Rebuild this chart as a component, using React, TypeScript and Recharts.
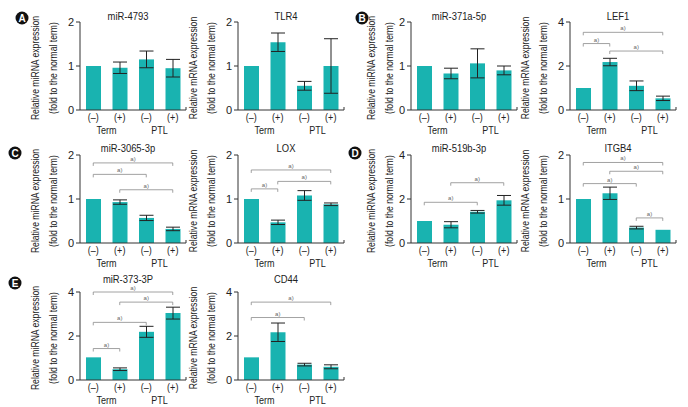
import React from "react";
import { BarChart, Bar, XAxis, YAxis, ErrorBar, ReferenceLine } from "recharts";

const FONT = '"Liberation Sans", Arial, sans-serif';
const SQUEEZE = 0.82;
const TEAL = "#19b3b0";
const INK = "#222";

const groups = ["term-", "term+", "ptl-", "ptl+"];
const groupLabels = ["(–)", "(+)", "(–)", "(+)"];
const sets = ["Term", "PTL"];

const mir4793 = [1.0, 0.96, 1.15, 0.95];
const mir4793Err = [0, 0.13, 0.19, 0.2];
const tlr4 = [1.0, 1.54, 0.55, 1.0];
const tlr4Err = [0, 0.21, 0.1, 0.62];
const mir371 = [1.0, 0.83, 1.06, 0.9];
const mir371Err = [0, 0.12, 0.33, 0.1];
const lef1 = [1.0, 2.18, 1.1, 0.53];
const lef1Err = [0, 0.17, 0.22, 0.1];
const mir3065 = [1.0, 0.93, 0.57, 0.32];
const mir3065Err = [0, 0.05, 0.06, 0.04];
const lox = [1.0, 0.47, 1.08, 0.88];
const loxErr = [0, 0.05, 0.11, 0.03];
const mir519 = [1.0, 0.83, 1.42, 1.94];
const mir519Err = [0, 0.14, 0.06, 0.22];
const itgb4 = [1.0, 1.13, 0.35, 0.3];
const itgb4Err = [0, 0.14, 0.03, 0];
const mir373 = [1.03, 0.49, 2.19, 3.04];
const mir373Err = [0, 0.06, 0.25, 0.27];
const cd44 = [1.03, 2.17, 0.7, 0.6];
const cd44Err = [0, 0.42, 0.06, 0.09];

// significance brackets: [from bar, to bar, height]
const lef1Sig = [[0, 3, 3.53], [0, 1, 3.02], [1, 3, 2.68]];
const mir3065Sig = [[0, 3, 1.82], [0, 2, 1.56], [1, 3, 1.21]];
const loxSig = [[0, 3, 1.66], [1, 3, 1.4], [0, 1, 1.23]];
const mir519Sig = [[1, 3, 2.74], [0, 2, 1.85]];
const itgb4Sig = [[0, 3, 1.83], [1, 3, 1.63], [0, 2, 1.35], [2, 3, 0.57]];
const mir373Sig = [[0, 3, 4.0], [1, 3, 3.54], [0, 2, 2.62], [0, 1, 1.43]];
const cd44Sig = [[0, 3, 3.54], [0, 2, 2.84]];

const ticks2 = [0, 1, 2];
const ticks4 = [0, 2, 4];

// layout
const colX = [80, 238, 411, 570];
const labelOff = [41, 41, 36, 41];
const rowY = [22, 155, 292];
const titleGap = [2, 3, 9];
const PLOT_W = 106;
const PLOT_H = 88;
const LEFT = 60;
const TOP = 30;
const RIGHT = 9;
const BOTTOM = 30;
const BAND = PLOT_W / 4;

type Panel = {
  title: string;
  kind: "miRNA" | "mRNA";
  col: number;
  row: number;
  values: number[];
  errs: number[];
  ticks: number[];
  sig: number[][];
};

const panels: Panel[] = [
  { title: "miR-4793", kind: "miRNA", col: 0, row: 0, values: mir4793, errs: mir4793Err, ticks: ticks2, sig: [] },
  { title: "TLR4", kind: "mRNA", col: 1, row: 0, values: tlr4, errs: tlr4Err, ticks: ticks2, sig: [] },
  { title: "miR-371a-5p", kind: "miRNA", col: 2, row: 0, values: mir371, errs: mir371Err, ticks: ticks2, sig: [] },
  { title: "LEF1", kind: "mRNA", col: 3, row: 0, values: lef1, errs: lef1Err, ticks: ticks4, sig: lef1Sig },
  { title: "miR-3065-3p", kind: "miRNA", col: 0, row: 1, values: mir3065, errs: mir3065Err, ticks: ticks2, sig: mir3065Sig },
  { title: "LOX", kind: "mRNA", col: 1, row: 1, values: lox, errs: loxErr, ticks: ticks2, sig: loxSig },
  { title: "miR-519b-3p", kind: "miRNA", col: 2, row: 1, values: mir519, errs: mir519Err, ticks: ticks4, sig: mir519Sig },
  { title: "ITGB4", kind: "mRNA", col: 3, row: 1, values: itgb4, errs: itgb4Err, ticks: ticks2, sig: itgb4Sig },
  { title: "miR-373-3P", kind: "miRNA", col: 0, row: 2, values: mir373, errs: mir373Err, ticks: ticks4, sig: mir373Sig },
  { title: "CD44", kind: "mRNA", col: 1, row: 2, values: cd44, errs: cd44Err, ticks: ticks4, sig: cd44Sig },
];

const letters = [
  { l: "A", x: 22, y: 18 },
  { l: "B", x: 362, y: 18 },
  { l: "C", x: 15, y: 153 },
  { l: "D", x: 355, y: 153 },
  { l: "E", x: 15, y: 283 },
];

// condensed-looking text: plain Liberation Sans squeezed horizontally
function Narrow({ x, y, size = 11, rotate = 0, children }: { x: number; y: number; size?: number; rotate?: number; children: React.ReactNode }) {
  return (
    <text
      transform={`translate(${x},${y}) rotate(${rotate}) scale(${SQUEEZE},1)`}
      textAnchor="middle"
      fontSize={size}
      fill={INK}
    >
      {children}
    </text>
  );
}

function GroupTick(props: any) {
  const { x, y, index } = props;
  return (
    <g>
      <Narrow x={x} y={y + 11}>{groupLabels[index]}</Narrow>
      {index % 2 === 0 && <Narrow x={x + BAND / 2} y={y + 24}>{sets[index / 2]}</Narrow>}
      {index === 3 && <line x1={x + BAND / 2} x2={x + BAND / 2} y1={y} y2={y - 3} stroke="#333" />}
    </g>
  );
}

function brackets(sig: number[][], yMax: number) {
  const drop = (yMax / PLOT_H) * 3;
  const out: React.ReactNode[] = [];
  sig.forEach(([a, b, h], i) => {
    const xa = groups[a];
    const xb = groups[b];
    const common = { stroke: "#8a8a8a", strokeWidth: 0.8, ifOverflow: "visible" as const };
    out.push(
      <ReferenceLine
        key={`h${i}`}
        {...common}
        segment={[{ x: xa, y: h }, { x: xb, y: h }]}
        label={{ value: "a)", position: "top", offset: 2, fontSize: 6, fill: "#666" }}
      />
    );
    out.push(<ReferenceLine key={`l${i}`} {...common} segment={[{ x: xa, y: h }, { x: xa, y: h - drop }]} />);
    out.push(<ReferenceLine key={`r${i}`} {...common} segment={[{ x: xb, y: h }, { x: xb, y: h - drop }]} />);
  });
  return out;
}

function PanelChart({ p }: { p: Panel }) {
  const data = groups.map((g, i) => ({ g, v: p.values[i], err: p.errs[i] }));
  const yMax = p.ticks[p.ticks.length - 1];
  const W = LEFT + PLOT_W + RIGHT;
  const H = TOP + PLOT_H + BOTTOM;
  const left = colX[p.col] - LEFT;
  const top = rowY[p.row] - TOP;
  const midY = TOP + PLOT_H / 2 + 2;
  const off = labelOff[p.col];
  return (
    <div style={{ position: "absolute", left, top, width: W, height: H }}>
      <BarChart width={W} height={H} data={data} margin={{ top: TOP, right: RIGHT, bottom: 0, left: 0 }} style={{ overflow: "visible" }}>
        <XAxis
          dataKey="g"
          height={BOTTOM}
          tickLine={false}
          tickSize={0}
          tickMargin={0}
          axisLine={{ stroke: "#333" }}
          tick={<GroupTick />}
          interval={0}
        />
        <YAxis
          width={LEFT}
          domain={[0, yMax]}
          ticks={p.ticks}
          tickSize={4}
          tickLine={{ stroke: "#333" }}
          axisLine={{ stroke: "#333" }}
          tick={{ fontSize: 11, fill: INK }}
          allowDataOverflow
        />
        <Bar dataKey="v" fill={TEAL} barSize={15} isAnimationActive={false}>
          <ErrorBar dataKey="err" width={7} stroke={INK} strokeWidth={1} />
        </Bar>
        {brackets(p.sig, yMax)}
      </BarChart>
      <svg width={W} height={H} style={{ position: "absolute", left: 0, top: 0, overflow: "visible", pointerEvents: "none" }}>
        <Narrow x={LEFT + PLOT_W / 2 - 5} y={TOP - titleGap[p.row]} size={11.5}>{p.title}</Narrow>
        <Narrow x={LEFT - off} y={midY} size={10.5} rotate={-90}>{`Relative ${p.kind} expression`}</Narrow>
        <Narrow x={LEFT - off + 18} y={midY} size={10.5} rotate={-90}>(fold to the normal term)</Narrow>
      </svg>
    </div>
  );
}

export default function App() {
  return (
    <div style={{ position: "absolute", left: 0, top: 0, width: 688, height: 407, background: "#fff", fontFamily: FONT, overflow: "hidden" }}>
      {panels.map((p) => (
        <PanelChart key={p.title} p={p} />
      ))}
      <svg width={688} height={407} style={{ position: "absolute", left: 0, top: 0, pointerEvents: "none" }}>
        {letters.map((d) => (
          <g key={d.l}>
            <circle cx={d.x} cy={d.y} r={6.5} fill="#111" />
            <text x={d.x} y={d.y + 3.5} textAnchor="middle" fontSize={10} fontWeight="bold" fill="#fff">
              {d.l}
            </text>
          </g>
        ))}
      </svg>
    </div>
  );
}
